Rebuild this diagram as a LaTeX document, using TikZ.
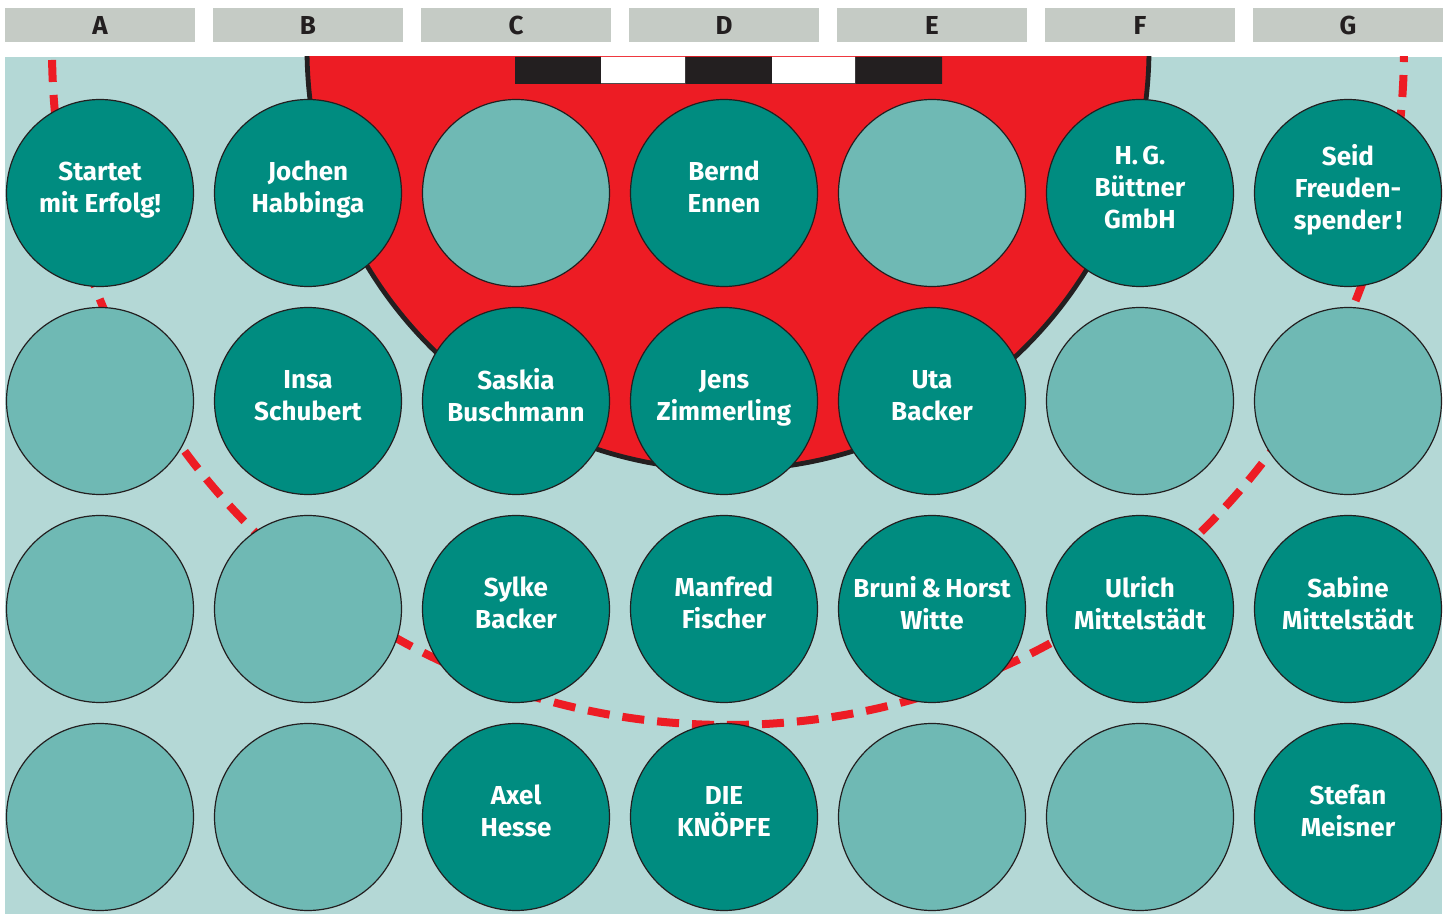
\documentclass[tikz,border=0pt]{standalone}
\usepackage{fontspec}
\setmainfont{Fira Sans}
\usepackage{xcolor}
\usepackage{tikz}
\usetikzlibrary{positioning,calc}

\definecolor{hdrgrey}{RGB}{197,203,197}
\definecolor{bgteal}{RGB}{180,216,214}
\definecolor{darkteal}{RGB}{0,140,128}
\definecolor{lightteal}{RGB}{111,185,180}
\definecolor{ladyred}{RGB}{237,28,36}
\definecolor{inkblack}{RGB}{35,31,32}

\begin{document}
\begin{tikzpicture}[x=0.5pt,y=-0.5pt,
    seat/.style={circle, draw=inkblack, line width=0.6pt, minimum size=93.5pt, inner sep=0pt,
      align=center, text depth=6pt, text=white, font=\bfseries\fontsize{13}{16}\selectfont},
    taken/.style={seat, fill=darkteal},
    free/.style={seat, fill=lightteal},
    colhead/.style={fill=hdrgrey, minimum width=95pt, minimum height=17pt, inner sep=0pt,
      text=inkblack, font=\bfseries\fontsize{13}{14}\selectfont}]
    \useasboundingbox (0,0) rectangle (1453,914);
    \fill[bgteal] (5,57) rectangle (1442,914);
    \node[colhead] (hA) at (100,25) {A};
    \node[colhead] (hB) at (308,25) {B};
    \node[colhead] (hC) at (516,25) {C};
    \node[colhead] (hD) at (724,25) {D};
    \node[colhead] (hE) at (932,25) {E};
    \node[colhead] (hF) at (1140,25) {F};
    \node[colhead] (hG) at (1348,25) {G};
    \begin{scope}
        \clip (5,57) rectangle (1442,914);
        \fill[ladyred] (728,49) circle [radius=210.5pt];
        \draw[inkblack, line width=2.4pt] (728,49) circle [radius=210.5pt];
        \draw[ladyred, line width=4pt, dash pattern=on 11pt off 6.5pt] (728,49) circle [radius=338pt]; % dashed ring
    \end{scope}
    \fill[inkblack] (515,57) rectangle (601,84) (685,57) rectangle (772,84) (855,57) rectangle (942,84);
    \fill[white] (601,57) rectangle (685,84) (772,57) rectangle (855,84);
    \draw[inkblack!80, line width=0.5pt] (601,84) -- (685,84) (772,84) -- (855,84);
    % row 1
    \node[taken] (A1) at (100,193) {Startet\\mit Erfolg!};
    \node[taken] (B1) at (308,193) {Jochen\\Habbinga};
    \node[free]  (C1) at (516,193) {};
    \node[taken] (D1) at (724,193) {Bernd\\Ennen};
    \node[free]  (E1) at (932,193) {};
    \node[taken] (F1) at (1140,193) {H.\,G.\\Büttner\\GmbH};
    \node[taken] (G1) at (1348,193) {Seid\\Freuden-\\spender\,!};
    % row 2
    \node[free]  (A2) at (100,401) {};
    \node[taken] (B2) at (308,401) {Insa\\Schubert};
    \node[taken] (C2) at (516,401) {Saskia\\Buschmann};
    \node[taken] (D2) at (724,401) {Jens\\Zimmerling};
    \node[taken] (E2) at (932,401) {Uta\\Backer};
    \node[free]  (F2) at (1140,401) {};
    \node[free]  (G2) at (1348,401) {};
    % row 3
    \node[free]  (A3) at (100,609) {};
    \node[free]  (B3) at (308,609) {};
    \node[taken] (C3) at (516,609) {Sylke\\Backer};
    \node[taken] (D3) at (724,609) {Manfred\\Fischer};
    \node[taken] (E3) at (932,609) {Bruni\,\&\,Horst\\Witte};
    \node[taken] (F3) at (1140,609) {Ulrich\\Mittelstädt};
    \node[taken] (G3) at (1348,609) {Sabine\\Mittelstädt};
    % row 4
    \node[free]  (A4) at (100,817) {};
    \node[free]  (B4) at (308,817) {};
    \node[taken] (C4) at (516,817) {Axel\\Hesse};
    \node[taken] (D4) at (724,817) {DIE\\KNÖPFE};
    \node[free]  (E4) at (932,817) {};
    \node[free]  (F4) at (1140,817) {};
    \node[taken] (G4) at (1348,817) {Stefan\\Meisner};
\end{tikzpicture}
\end{document}
